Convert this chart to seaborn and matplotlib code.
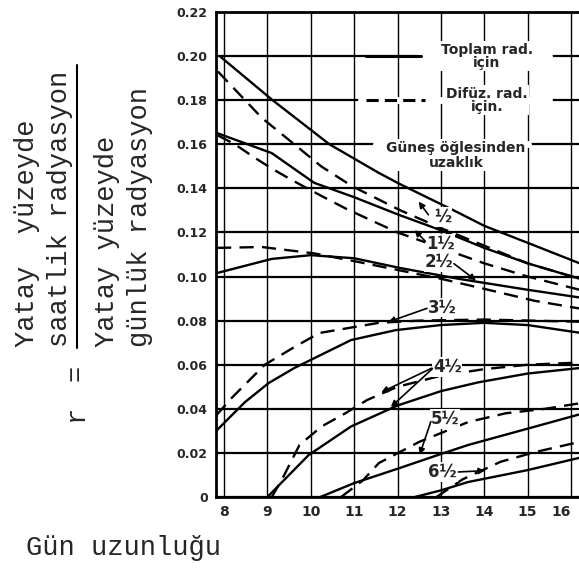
import pandas as pd
import seaborn as sns
from matplotlib import pyplot as plt
from matplotlib.lines import Line2D

# gun uzunlugu (saat) ve r degerleri
t05_x = [7.9, 9.12, 10.43, 11.57, 12.05, 13.4, 14.0, 15.04, 16.2]
t05_y = [0.200, 0.180, 0.160, 0.147, 0.142, 0.129, 0.123, 0.115, 0.106]
d05_x = [7.86, 8.87, 9.62, 10.24, 10.95, 12.07, 13.0, 14.0, 15.0, 16.2]
d05_y = [0.193, 0.172, 0.160, 0.150, 0.141, 0.130, 0.122, 0.114, 0.106, 0.099]
t15_x = [7.85, 9.1, 10.08, 11.0, 12.03, 13.0, 14.0, 15.0, 16.2]
t15_y = [0.165, 0.156, 0.1425, 0.136, 0.128, 0.121, 0.113, 0.106, 0.099]
d15_x = [7.86, 8.25, 8.7, 9.1, 9.56, 10.3, 10.83, 12.0, 13.0, 14.0, 15.0, 16.2]
d15_y = [0.164, 0.160, 0.154, 0.149, 0.1438, 0.136, 0.1306, 0.120, 0.113, 0.106, 0.100, 0.094]
t25_x = [7.84, 9.1, 10.0, 11.0, 12.03, 13.4, 15.0, 16.2]
t25_y = [0.1016, 0.108, 0.1097, 0.1083, 0.104, 0.099, 0.094, 0.0905]
d25_x = [7.84, 8.87, 10.08, 11.0, 12.0, 13.0, 14.09, 15.16, 16.2]
d25_y = [0.113, 0.1134, 0.1105, 0.107, 0.103, 0.099, 0.094, 0.089, 0.0855]
t35_x = [7.82, 8.48, 9.03, 9.62, 10.93, 11.96, 13.0, 14.0, 15.0, 16.2]
t35_y = [0.030, 0.043, 0.0517, 0.0585, 0.0712, 0.0757, 0.078, 0.079, 0.078, 0.0745]
d35_x = [7.82, 8.18, 8.94, 9.62, 10.2, 11.57, 12.5, 14.0, 16.2]
d35_y = [0.037, 0.045, 0.060, 0.068, 0.0744, 0.079, 0.080, 0.0805, 0.0795]
t45_x = [9.0, 9.95, 10.93, 12.0, 13.0, 13.86, 15.0, 16.2]
t45_y = [0.0, 0.019, 0.032, 0.0415, 0.048, 0.052, 0.056, 0.0585]
d45_x = [9.1, 9.33, 9.74, 10.25, 10.8, 11.3, 12.0, 13.0, 14.0, 15.0, 16.2]
d45_y = [0.0, 0.0077, 0.0236, 0.032, 0.038, 0.044, 0.050, 0.055, 0.058, 0.060, 0.061]
t55_x = [10.22, 11.0, 12.03, 13.0, 13.63, 15.0, 16.2]
t55_y = [0.0, 0.0063, 0.013, 0.0195, 0.0236, 0.031, 0.0375]
d55_x = [10.7, 11.2, 11.57, 12.5, 13.63, 14.5, 15.4, 16.2]
d55_y = [0.0, 0.0075, 0.0154, 0.025, 0.034, 0.038, 0.040, 0.0425]
t65_x = [12.4, 13.0, 13.63, 15.0, 16.2]
t65_y = [0.0, 0.003, 0.0068, 0.0122, 0.0178]
d65_x = [12.9, 13.5, 14.38, 15.2, 16.2]
d65_y = [0.0, 0.008, 0.016, 0.0205, 0.025]

saatler = ['½', '1½', '2½', '3½', '4½', '5½', '6½']
toplam = [(t05_x, t05_y), (t15_x, t15_y), (t25_x, t25_y), (t35_x, t35_y),
          (t45_x, t45_y), (t55_x, t55_y), (t65_x, t65_y)]
difuz = [(d05_x, d05_y), (d15_x, d15_y), (d25_x, d25_y), (d35_x, d35_y),
         (d45_x, d45_y), (d55_x, d55_y), (d65_x, d65_y)]

rows = []
for s, (xs, ys) in zip(saatler, toplam):
    rows += [{'gun': a, 'r': b, 'egri': 'T' + s, 'tur': 'Toplam'} for a, b in zip(xs, ys)]
for s, (xs, ys) in zip(saatler, difuz):
    rows += [{'gun': a, 'r': b, 'egri': 'D' + s, 'tur': 'Difüz'} for a, b in zip(xs, ys)]
df = pd.DataFrame(rows)

sns.set_style('white')
mono = 'Liberation Mono'

fig = plt.figure(figsize=(5.79, 5.74), dpi=100)
ax = fig.add_axes([216 / 579, 77 / 574, 363 / 579, 485 / 574])

sns.lineplot(data=df, x='gun', y='r', units='egri', estimator=None, style='tur',
             dashes={'Toplam': '', 'Difüz': (6, 3.5)}, color='k', lw=1.7,
             sort=False, legend=False, ax=ax, zorder=3)

ax.set_xlim(7.815, 16.185)
ax.set_ylim(0, 0.22)
ax.set_xticks(range(8, 17))
ax.set_xticklabels([str(v) for v in range(8, 17)], fontsize=10, fontweight='bold')
ax.get_xticklabels()[-1].set_horizontalalignment('right')
yt = [i * 0.02 for i in range(12)]
ax.set_yticks(yt)
ax.set_yticklabels(['0'] + [f'{v:.2f}' for v in yt[1:]], fontsize=9, fontweight='bold')
ax.tick_params(axis='both', length=4, width=1, color='k', pad=2)
ax.set_axisbelow(True)
ax.grid(axis='y', color='k', lw=1.6)
ax.grid(axis='x', color='k', lw=1.0)
for side in ['left', 'bottom', 'top']:
    ax.spines[side].set_color('k')
    ax.spines[side].set_linewidth(2)
ax.spines['right'].set_visible(False)
ax.set_xlabel('')
ax.set_ylabel('')

# aciklama kutusu
ax.plot([12.5, 15.5], [0.20, 0.20], color='white', lw=5, zorder=2)
ax.plot([11.27, 12.55], [0.20, 0.20], color='k', lw=2.2, zorder=4)
ax.text(14.06, 0.2, 'Toplam rad.\niçin', ha='center', va='center', fontsize=10,
        fontweight='bold', linespacing=0.9, zorder=5,
        bbox=dict(facecolor='white', edgecolor='none', pad=1))
ax.plot([11.15, 15.5], [0.18, 0.18], color='white', lw=5, zorder=2)
ax.plot([11.27, 12.64], [0.18, 0.18], color='k', lw=2.2, dashes=(4, 2), zorder=4)
ax.text(14.06, 0.18, 'Difüz. rad.\niçin.', ha='center', va='center', fontsize=10,
        fontweight='bold', linespacing=0.9, zorder=5,
        bbox=dict(facecolor='white', edgecolor='none', pad=1))
ax.plot([11.5, 15.0], [0.16, 0.16], color='white', lw=5, zorder=2)
ax.text(13.35, 0.155, 'Güneş öğlesinden\nuzaklık', ha='center', va='center', fontsize=10,
        fontweight='bold', linespacing=1.1, zorder=5,
        bbox=dict(facecolor='white', edgecolor='none', pad=1))

# saat etiketleri ve oklar
etiket = {'½': (13.05, 0.127), '1½': (12.99, 0.115), '2½': (12.95, 0.1066),
          '3½': (13.04, 0.086), '4½': (13.15, 0.059), '5½': (13.09, 0.0354),
          '6½': (13.04, 0.0113)}
hedef = {'½': [(12.45, 0.135)], '1½': [(12.35, 0.122)], '2½': [(13.86, 0.0975)],
         '3½': [(11.73, 0.079)], '4½': [(11.57, 0.047), (11.8, 0.040)],
         '5½': [(12.49, 0.018)], '6½': [(14.08, 0.012)]}
for s, (lx, ly) in etiket.items():
    ax.text(lx, ly, s, ha='center', va='center', fontsize=12, fontweight='bold', zorder=6,
            bbox=dict(facecolor='white', edgecolor='none', pad=0.5))
    for hx, hy in hedef[s]:
        sx = lx + (0.3 if hx > lx else -0.3)
        ax.annotate('', xy=(hx, hy), xytext=(sx, ly), zorder=6,
                    arrowprops=dict(arrowstyle='-|>', color='k', lw=1.2, mutation_scale=9))

# eksen yazilari
fig.text(26 / 579, 1 - 548 / 574, 'Gün uzunluğu', family=mono, fontsize=19.5,
         ha='left', va='center')
y0 = 1 - 347 / 574
for px, txt in [(27, 'Yatay  yüzeyde'), (60, 'saatlik radyasyon'),
                (107, 'Yatay yüzeyde'), (140, 'günlük radyasyon')]:
    fig.text(px / 579, y0, txt, family=mono, fontsize=19.5, rotation=90,
             rotation_mode='anchor', ha='left', va='center')
fig.add_artist(Line2D([77 / 579, 77 / 579], [1 - 348 / 574, 1 - 65 / 574],
                      transform=fig.transFigure, color='k', lw=1.5))
fig.text(76 / 579, 1 - 373 / 574, '=', family=mono, fontsize=19.5, rotation=90,
         ha='center', va='center')
fig.text(76 / 579, 1 - 413 / 574, 'r', family=mono, fontsize=19.5, rotation=90,
         ha='center', va='center')

fig.savefig('out.png', dpi=100)
